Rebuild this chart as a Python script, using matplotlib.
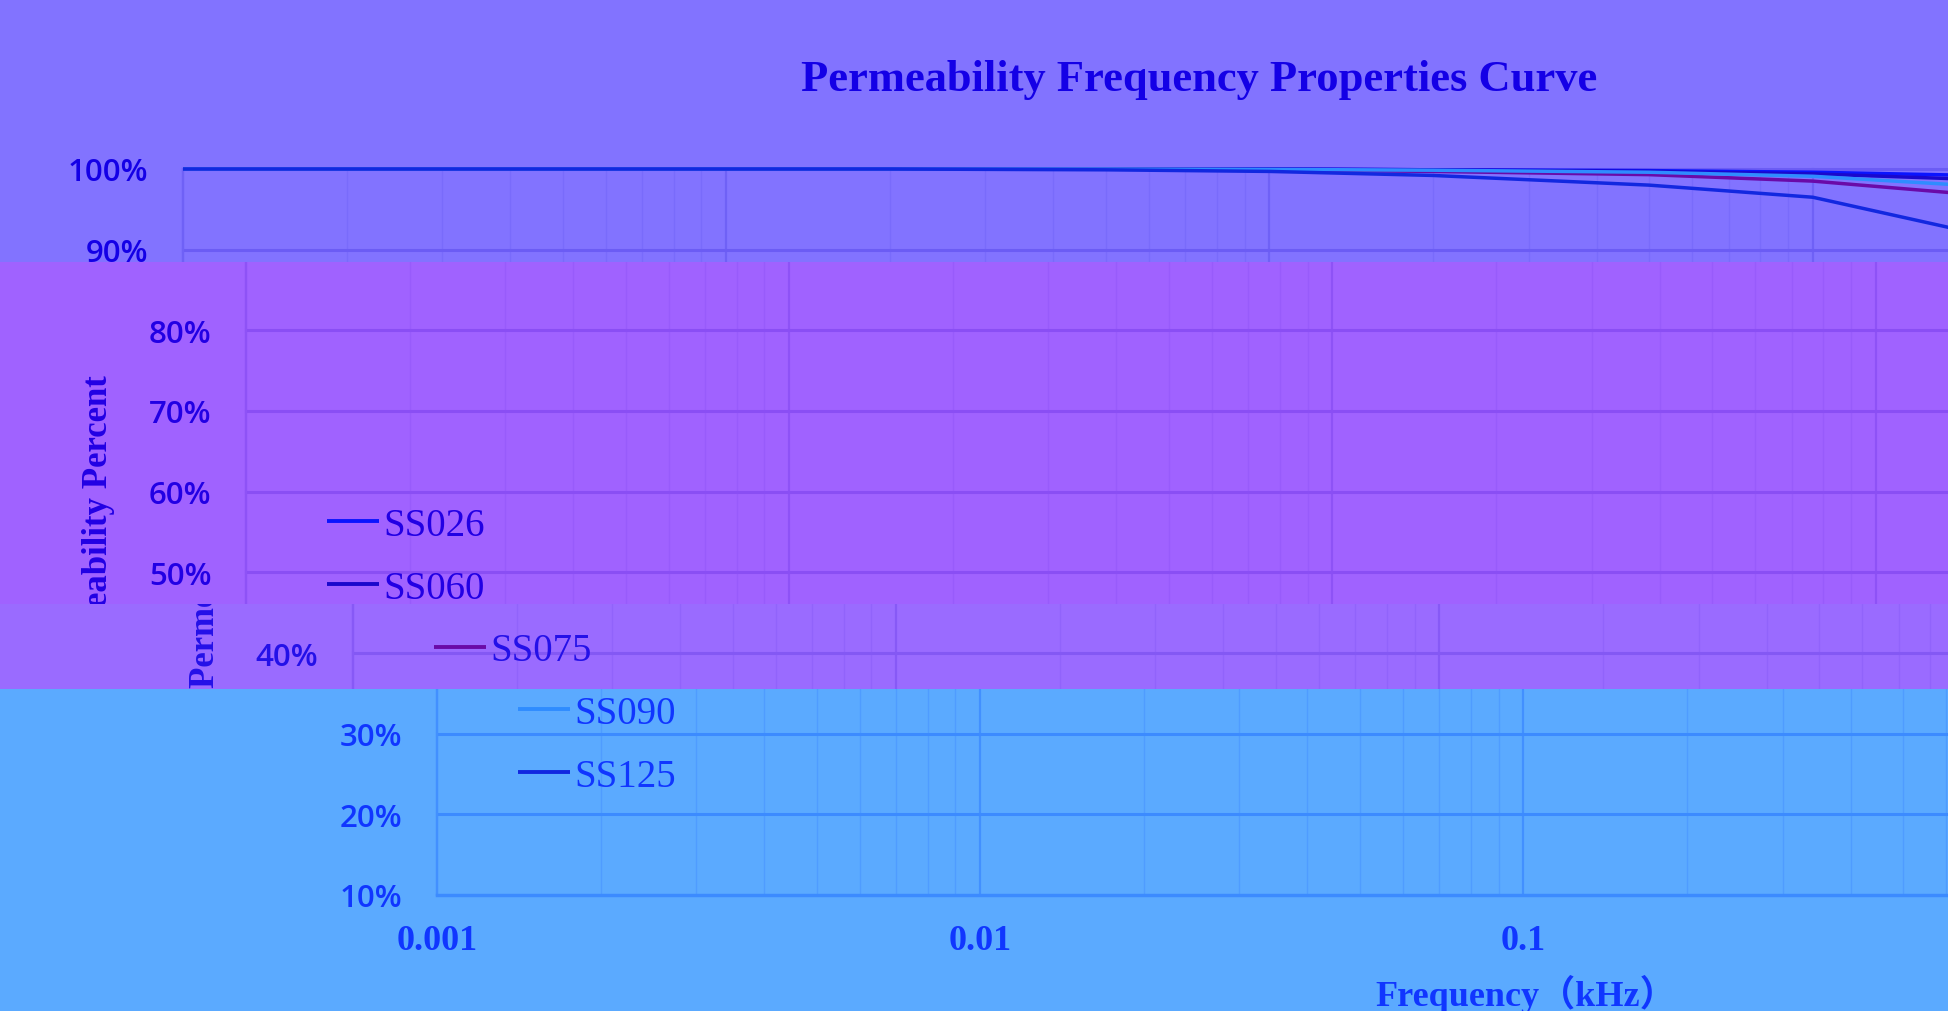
import matplotlib
matplotlib.use("Agg")
import matplotlib.pyplot as plt
from matplotlib.patches import Rectangle
from matplotlib.text import Text
from matplotlib.transforms import Bbox, TransformedBbox
from matplotlib.ticker import FixedLocator, FixedFormatter, NullFormatter

# ---------------- data ----------------
freq_khz = [0.001, 0.002, 0.005, 0.01, 0.02, 0.05, 0.1, 0.2, 0.5, 1, 2]
ss026 = [100, 100, 100, 100, 100, 100, 100.0, 99.9, 99.8, 99.6, 99.2]
ss060 = [100, 100, 100, 100, 100, 100, 100.0, 99.9, 99.7, 99.4, 98.7]
ss075 = [100, 100, 100, 100, 100, 100, 99.9, 99.7, 99.3, 98.5, 96.8]
ss090 = [100, 100, 100, 100, 100, 100, 99.95, 99.85, 99.6, 99.1, 97.9]
ss125 = [100, 100, 100, 100, 100, 99.9, 99.7, 99.2, 98.0, 96.5, 92.0]
series_names = ["SS026", "SS060", "SS075", "SS090", "SS125"]
series_values = [ss026, ss060, ss075, ss090, ss125]
series_colors = ["#0a14ff", "#1a08cc", "#6a0aa8", "#2f8cff", "#1228e0"]

y_ticks = [10, 20, 30, 40, 50, 60, 70, 80, 90, 100]
y_tick_labels = ["10%", "20%", "30%", "40%", "50%", "60%", "70%", "80%", "90%", "100%"]
x_ticks = [0.001, 0.01, 0.1, 1, 10]
x_tick_labels = ["0.001", "0.01", "0.1", "1", "10"]
x_minor = [k * 10.0 ** e for e in range(-3, 1) for k in range(2, 10)]

title = "Permeability Frequency Properties Curve"
xlabel = "Frequency（kHz）"
ylabel = "Permeability Percent"

# ---------------- layout (pixels, top-left origin) ----------------
W, H, DPI = 1949, 1012, 100
AX_L, AX_R, AX_T, AX_B = 183, 2356, 170, 896

# band: (top, bottom, horizontal shift, background, text, hgrid, vmajor, vminor)
bands = [
    (0, 263, 0, "#8273ff", "#1400e6", "#6b5cf4", "#6f61f6", "#796bfb"),
    (263, 605, 63, "#a062ff", "#2200e4", "#8a4ef4", "#8e52f6", "#985bfb"),
    (605, 690, 170, "#9a6bff", "#2410e8", "#8458f4", "#8759f6", "#9163fb"),
    (690, 1012, 254, "#5baaff", "#1036ff", "#3c8bff", "#4290ff", "#4f9cff"),
]


def px_ax(x, y):
    return (x - AX_L) / (AX_R - AX_L), (AX_B - y) / (AX_B - AX_T)


fig = plt.figure(figsize=(W / DPI, H / DPI), dpi=DPI)
fig.patch.set_facecolor(bands[0][3])

axes = []
for (top, bot, dx, bg, txt, hgrid, vmaj, vmin) in bands:
    fig.add_artist(Rectangle((0, 1 - bot / H), 1, (bot - top) / H,
                             transform=fig.transFigure, facecolor=bg,
                             edgecolor="none", zorder=-10, antialiased=False))
    ax = fig.add_axes([(AX_L + dx) / W, 1 - AX_B / H,
                       (AX_R - AX_L) / W, (AX_B - AX_T) / H])
    ax.set_facecolor("none")
    ax.set_xscale("log")
    ax.set_xlim(0.001, 10)
    ax.set_ylim(10, 100)

    for name, vals, c in zip(series_names, series_values, series_colors):
        ax.plot(freq_khz, vals, color=c, lw=2.5, label=name,
                solid_capstyle="butt", zorder=3)

    ax.xaxis.set_major_locator(FixedLocator(x_ticks))
    ax.xaxis.set_major_formatter(FixedFormatter(x_tick_labels))
    ax.xaxis.set_minor_locator(FixedLocator(x_minor))
    ax.xaxis.set_minor_formatter(NullFormatter())
    ax.set_yticks(y_ticks, y_tick_labels)

    ax.tick_params(axis="both", which="both", length=0)
    ax.tick_params(axis="y", pad=25, labelsize=22.5, labelcolor=txt,
                   labelfontfamily="Open Sans")
    ax.tick_params(axis="x", pad=21, labelsize=26, labelcolor=txt,
                   labelfontfamily="Liberation Serif")
    for lbl in ax.get_xticklabels():
        lbl.set_fontweight("bold")
    for lbl in ax.get_yticklabels():
        lbl.set_fontweight("semibold")

    ax.set_axisbelow(True)
    ax.grid(True, which="major", axis="y", color=hgrid, lw=2.2)
    ax.grid(True, which="major", axis="x", color=vmaj, lw=1.6)
    ax.grid(True, which="minor", axis="x", color=vmin, lw=1.0)

    for s in ("top", "right"):
        ax.spines[s].set_visible(False)
    ax.spines["left"].set_color(vmaj)
    ax.spines["left"].set_linewidth(1.6)
    ax.spines["bottom"].set_color(hgrid)
    ax.spines["bottom"].set_linewidth(2.4)

    leg = ax.legend(loc="upper left", bbox_to_anchor=px_ax(264, 508),
                    frameon=False, prop={"family": "Liberation Serif", "size": 28},
                    handlelength=1.34, handletextpad=0.1, labelspacing=0.66,
                    borderpad=0, borderaxespad=0)
    for t in leg.get_texts():
        t.set_color(txt)
    for l in leg.get_lines():
        l.set_linewidth(2.8)

    tx, ty = px_ax(1199, 91)
    ax.text(tx, ty, title, transform=ax.transAxes, ha="center", va="baseline",
            fontsize=32, fontweight="bold", family="Liberation Serif", color=txt)
    lx, ly = px_ax(36, 532)
    ax.text(lx, ly, ylabel, transform=ax.transAxes, ha="center", va="center",
            rotation=90, fontsize=25, fontweight="bold",
            family="Liberation Serif", color=txt)
    xx, xy = px_ax(1272, 994)
    ax.text(xx, xy, xlabel, transform=ax.transAxes, ha="center", va="center",
            fontsize=26, fontweight="bold",
            family=["Liberation Serif", "Noto Sans CJK SC"], color=txt)
    axes.append(ax)

fig.canvas.draw()
renderer = fig.canvas.get_renderer()

for ax, (top, bot, *_rest) in zip(axes, bands):
    clip = TransformedBbox(Bbox.from_extents(0, 1 - bot / H, 1, 1 - top / H),
                           fig.transFigure)
    y_lo, y_hi = H - bot, H - top
    for a in ax.findobj():
        if a is ax:
            continue
        a.set_clip_on(True)
        a.set_clip_box(clip)
        if isinstance(a, Text) and a.get_visible():
            if not a.get_text():
                continue
            bb = a.get_window_extent(renderer)
            inside = (bb.x1 > 0 and bb.x0 < W and bb.y1 > y_lo + 1 and bb.y0 < y_hi - 1)
            if not inside:
                a.set_visible(False)

fig.savefig("out.png", dpi=DPI, facecolor=fig.get_facecolor())
